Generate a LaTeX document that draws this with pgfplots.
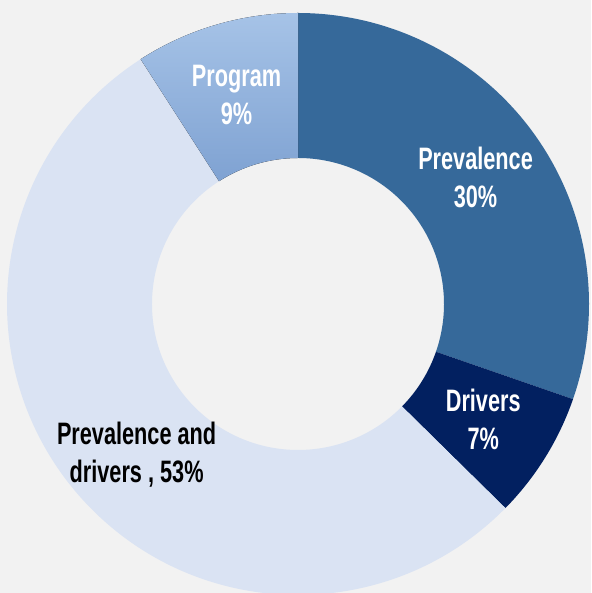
\documentclass[border=0pt]{standalone}
\usepackage{pgfplots}
\usepackage{pgfplotstable}
\pgfplotsset{compat=1.18}
\usepackage{fontspec}
\setmainfont[FakeStretch=0.70]{Liberation Sans}
\definecolor{bg}{HTML}{F2F2F2}
\definecolor{cPrev}{HTML}{36699A}
\definecolor{cDrv}{HTML}{022060}
\definecolor{cPD}{HTML}{DAE3F3}
\definecolor{cProgTop}{HTML}{A6C3E7}
\definecolor{cProgBot}{HTML}{7FA2D2}

\pgfplotstableread{
label value
Prevalence 30
Drivers 7
PD 53
Program 9
}\donutdata

\def\cum{0}
\foreach \i in {0,...,3}{%
  \pgfplotstablegetelem{\i}{value}\of\donutdata
  \pgfmathsetmacro\s{90-\cum*(360/99)}%
  \pgfmathsetmacro\newcum{\cum+\pgfplotsretval}%
  \pgfmathsetmacro\e{90-\newcum*(360/99)}%
  \pgfmathsetmacro\m{(\s+\e)/2}%
  \expandafter\xdef\csname sa\i\endcsname{\s}%
  \expandafter\xdef\csname ea\i\endcsname{\e}%
  \expandafter\xdef\csname ma\i\endcsname{\m}%
  \xdef\cum{\newcum}%
}

\def\Ro{291}
\def\Ri{146}
\def\Rl{218}

\begin{document}
\begin{tikzpicture}
\begin{axis}[
  scale only axis, width=591pt, height=593pt,
  xmin=-298, xmax=293, ymin=-289, ymax=304,
  hide axis, clip=true,
  axis background/.style={fill=bg},
]
\addplot[draw=none] coordinates {(0,0)};
\def\sector#1#2{%
  \fill[#2] (axis cs:{\Ro*cos(\csname sa#1\endcsname)},{\Ro*sin(\csname sa#1\endcsname)})
    arc[start angle=\csname sa#1\endcsname, end angle=\csname ea#1\endcsname, radius=\Ro pt]
    -- (axis cs:{\Ri*cos(\csname ea#1\endcsname)},{\Ri*sin(\csname ea#1\endcsname)})
    arc[start angle=\csname ea#1\endcsname, end angle=\csname sa#1\endcsname, radius=\Ri pt]
    -- cycle;}
\sector{0}{cPrev}
\sector{1}{cDrv}
\sector{2}{cPD}
\sector{3}{top color=cProgTop, bottom color=cProgBot}
\tikzset{lbl/.style={align=center, font=\fontsize{31}{38}\selectfont\bfseries}}
\node[lbl, text=white] at (axis cs:{\Rl*cos(\csname ma0\endcsname)},{\Rl*sin(\csname ma0\endcsname)}) {Prevalence\\30\%};
\node[lbl, text=white] at (axis cs:{\Rl*cos(\csname ma1\endcsname)},{\Rl*sin(\csname ma1\endcsname)}) {Drivers\\7\%};
\node[lbl, text=black] at (axis cs:{221*cos(\csname ma2\endcsname+4)},{221*sin(\csname ma2\endcsname+4)}) {Prevalence and\\drivers , 53\%};
\node[lbl, text=white] at (axis cs:{\Rl*cos(\csname ma3\endcsname)},{\Rl*sin(\csname ma3\endcsname)}) {Program\\9\%};
\end{axis}
\end{tikzpicture}
\end{document}
